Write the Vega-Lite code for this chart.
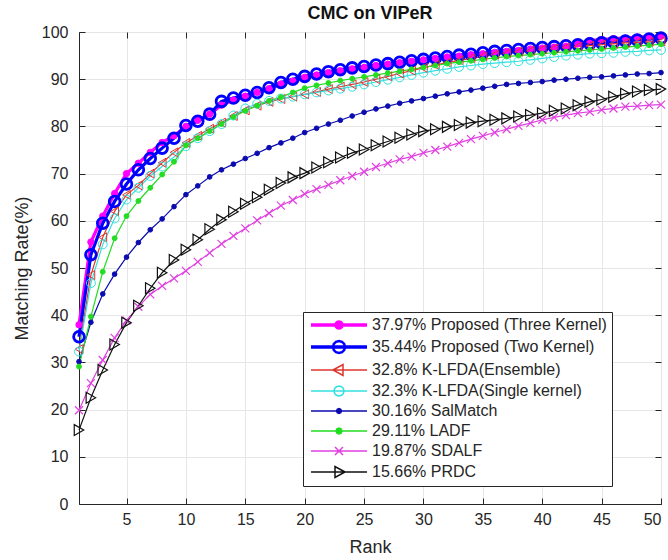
{
  "$schema": "https://vega.github.io/schema/vega-lite/v6.json",
  "width": 582,
  "height": 472,
  "autosize": "none",
  "padding": {"left": 79, "top": 32, "right": 7, "bottom": 56},
  "background": "white",
  "title": {"text": "CMC on VIPeR", "fontSize": 18, "fontWeight": "bold", "font": "Liberation Sans", "color": "#111111", "offset": 1, "anchor": "middle"},
  "config": {
    "view": {"stroke": "#262626", "strokeWidth": 1},
    "font": "Liberation Sans",
    "axis": {"domainColor": "#262626", "domainWidth": 1, "tickColor": "#262626", "tickSize": -6, "tickWidth": 1, "labelColor": "#262626", "labelFontSize": 16, "labelFont": "Liberation Sans", "titleFont": "Liberation Sans", "titleFontSize": 18, "titleFontWeight": "normal", "titleColor": "#262626", "gridColor": "#e6e6e6", "gridWidth": 1}
  },
  "data": {"values": [
{"s":"TK","r":1,"v":37.97},{"s":"TK","r":2,"v":55.5},{"s":"TK","r":3,"v":61.0},{"s":"TK","r":4,"v":65.8},{"s":"TK","r":5,"v":70.0},{"s":"TK","r":6,"v":72.2},{"s":"TK","r":7,"v":74.5},{"s":"TK","r":8,"v":76.6},{"s":"TK","r":9,"v":78.0},{"s":"TK","r":10,"v":80.0},
{"s":"TK","r":11,"v":81.3},{"s":"TK","r":12,"v":82.6},{"s":"TK","r":13,"v":84.5},{"s":"TK","r":14,"v":85.6},{"s":"TK","r":15,"v":86.4},{"s":"TK","r":16,"v":87.2},{"s":"TK","r":17,"v":88.0},{"s":"TK","r":18,"v":89.0},{"s":"TK","r":19,"v":89.6},{"s":"TK","r":20,"v":90.4},
{"s":"TK","r":21,"v":90.9},{"s":"TK","r":22,"v":91.4},{"s":"TK","r":23,"v":91.8},{"s":"TK","r":24,"v":92.2},{"s":"TK","r":25,"v":92.5},{"s":"TK","r":26,"v":92.9},{"s":"TK","r":27,"v":93.2},{"s":"TK","r":28,"v":93.5},{"s":"TK","r":29,"v":93.8},{"s":"TK","r":30,"v":94.1},
{"s":"TK","r":31,"v":94.4},{"s":"TK","r":32,"v":94.7},{"s":"TK","r":33,"v":94.9},{"s":"TK","r":34,"v":95.2},{"s":"TK","r":35,"v":95.4},{"s":"TK","r":36,"v":95.7},{"s":"TK","r":37,"v":95.9},{"s":"TK","r":38,"v":96.1},{"s":"TK","r":39,"v":96.4},{"s":"TK","r":40,"v":96.6},
{"s":"TK","r":41,"v":96.8},{"s":"TK","r":42,"v":97.0},{"s":"TK","r":43,"v":97.5},{"s":"TK","r":44,"v":98.2},{"s":"TK","r":45,"v":98.4},{"s":"TK","r":46,"v":98.6},{"s":"TK","r":47,"v":98.7},{"s":"TK","r":48,"v":98.9},{"s":"TK","r":49,"v":99.0},{"s":"TK","r":50,"v":99.1},
{"s":"TwK","r":1,"v":35.44},{"s":"TwK","r":2,"v":52.8},{"s":"TwK","r":3,"v":59.5},{"s":"TwK","r":4,"v":64.1},{"s":"TwK","r":5,"v":67.8},{"s":"TwK","r":6,"v":70.8},{"s":"TwK","r":7,"v":73.2},{"s":"TwK","r":8,"v":75.4},{"s":"TwK","r":9,"v":77.5},{"s":"TwK","r":10,"v":80.2},
{"s":"TwK","r":11,"v":81.1},{"s":"TwK","r":12,"v":82.6},{"s":"TwK","r":13,"v":85.3},{"s":"TwK","r":14,"v":86.0},{"s":"TwK","r":15,"v":86.6},{"s":"TwK","r":16,"v":87.2},{"s":"TwK","r":17,"v":88.2},{"s":"TwK","r":18,"v":89.3},{"s":"TwK","r":19,"v":90.0},{"s":"TwK","r":20,"v":90.6},
{"s":"TwK","r":21,"v":91.1},{"s":"TwK","r":22,"v":91.6},{"s":"TwK","r":23,"v":92.0},{"s":"TwK","r":24,"v":92.4},{"s":"TwK","r":25,"v":92.7},{"s":"TwK","r":26,"v":93.0},{"s":"TwK","r":27,"v":93.3},{"s":"TwK","r":28,"v":93.6},{"s":"TwK","r":29,"v":93.9},{"s":"TwK","r":30,"v":94.2},
{"s":"TwK","r":31,"v":94.5},{"s":"TwK","r":32,"v":94.8},{"s":"TwK","r":33,"v":95.1},{"s":"TwK","r":34,"v":95.3},{"s":"TwK","r":35,"v":95.6},{"s":"TwK","r":36,"v":95.9},{"s":"TwK","r":37,"v":96.1},{"s":"TwK","r":38,"v":96.3},{"s":"TwK","r":39,"v":96.5},{"s":"TwK","r":40,"v":96.7},
{"s":"TwK","r":41,"v":96.9},{"s":"TwK","r":42,"v":97.1},{"s":"TwK","r":43,"v":97.3},{"s":"TwK","r":44,"v":97.5},{"s":"TwK","r":45,"v":97.7},{"s":"TwK","r":46,"v":97.9},{"s":"TwK","r":47,"v":98.1},{"s":"TwK","r":48,"v":98.3},{"s":"TwK","r":49,"v":98.5},{"s":"TwK","r":50,"v":98.7},
{"s":"KE","r":1,"v":32.8},{"s":"KE","r":2,"v":48.5},{"s":"KE","r":3,"v":56.5},{"s":"KE","r":4,"v":62.0},{"s":"KE","r":5,"v":65.5},{"s":"KE","r":6,"v":67.5},{"s":"KE","r":7,"v":70.0},{"s":"KE","r":8,"v":72.3},{"s":"KE","r":9,"v":74.5},{"s":"KE","r":10,"v":76.5},
{"s":"KE","r":11,"v":78.0},{"s":"KE","r":12,"v":79.5},{"s":"KE","r":13,"v":80.8},{"s":"KE","r":14,"v":82.2},{"s":"KE","r":15,"v":83.4},{"s":"KE","r":16,"v":84.4},{"s":"KE","r":17,"v":85.2},{"s":"KE","r":18,"v":85.8},{"s":"KE","r":19,"v":86.3},{"s":"KE","r":20,"v":86.8},
{"s":"KE","r":21,"v":87.3},{"s":"KE","r":22,"v":87.9},{"s":"KE","r":23,"v":88.4},{"s":"KE","r":24,"v":88.9},{"s":"KE","r":25,"v":89.4},{"s":"KE","r":26,"v":90.0},{"s":"KE","r":27,"v":90.6},{"s":"KE","r":28,"v":91.2},{"s":"KE","r":29,"v":91.8},{"s":"KE","r":30,"v":92.4},
{"s":"KE","r":31,"v":93.0},{"s":"KE","r":32,"v":93.5},{"s":"KE","r":33,"v":94.0},{"s":"KE","r":34,"v":94.4},{"s":"KE","r":35,"v":94.8},{"s":"KE","r":36,"v":95.2},{"s":"KE","r":37,"v":95.5},{"s":"KE","r":38,"v":95.8},{"s":"KE","r":39,"v":96.0},{"s":"KE","r":40,"v":96.3},
{"s":"KE","r":41,"v":96.5},{"s":"KE","r":42,"v":96.7},{"s":"KE","r":43,"v":96.9},{"s":"KE","r":44,"v":97.1},{"s":"KE","r":45,"v":97.3},{"s":"KE","r":46,"v":97.5},{"s":"KE","r":47,"v":97.7},{"s":"KE","r":48,"v":97.8},{"s":"KE","r":49,"v":97.9},{"s":"KE","r":50,"v":98.0},
{"s":"KS","r":1,"v":32.3},{"s":"KS","r":2,"v":46.8},{"s":"KS","r":3,"v":55.0},{"s":"KS","r":4,"v":60.5},{"s":"KS","r":5,"v":64.5},{"s":"KS","r":6,"v":67.0},{"s":"KS","r":7,"v":69.5},{"s":"KS","r":8,"v":71.5},{"s":"KS","r":9,"v":73.5},{"s":"KS","r":10,"v":75.8},
{"s":"KS","r":11,"v":77.5},{"s":"KS","r":12,"v":79.0},{"s":"KS","r":13,"v":80.5},{"s":"KS","r":14,"v":82.3},{"s":"KS","r":15,"v":83.8},{"s":"KS","r":16,"v":84.8},{"s":"KS","r":17,"v":85.4},{"s":"KS","r":18,"v":85.9},{"s":"KS","r":19,"v":86.3},{"s":"KS","r":20,"v":86.8},
{"s":"KS","r":21,"v":87.2},{"s":"KS","r":22,"v":87.6},{"s":"KS","r":23,"v":88.0},{"s":"KS","r":24,"v":88.4},{"s":"KS","r":25,"v":88.9},{"s":"KS","r":26,"v":89.4},{"s":"KS","r":27,"v":89.9},{"s":"KS","r":28,"v":90.4},{"s":"KS","r":29,"v":90.9},{"s":"KS","r":30,"v":91.4},
{"s":"KS","r":31,"v":91.8},{"s":"KS","r":32,"v":92.2},{"s":"KS","r":33,"v":92.6},{"s":"KS","r":34,"v":92.9},{"s":"KS","r":35,"v":93.2},{"s":"KS","r":36,"v":93.4},{"s":"KS","r":37,"v":93.6},{"s":"KS","r":38,"v":93.8},{"s":"KS","r":39,"v":94.1},{"s":"KS","r":40,"v":94.4},
{"s":"KS","r":41,"v":94.7},{"s":"KS","r":42,"v":95.0},{"s":"KS","r":43,"v":95.2},{"s":"KS","r":44,"v":95.4},{"s":"KS","r":45,"v":95.5},{"s":"KS","r":46,"v":95.6},{"s":"KS","r":47,"v":95.8},{"s":"KS","r":48,"v":95.9},{"s":"KS","r":49,"v":96.1},{"s":"KS","r":50,"v":96.2},
{"s":"SM","r":1,"v":30.16},{"s":"SM","r":2,"v":38.5},{"s":"SM","r":3,"v":44.5},{"s":"SM","r":4,"v":48.7},{"s":"SM","r":5,"v":52.3},{"s":"SM","r":6,"v":55.4},{"s":"SM","r":7,"v":58.1},{"s":"SM","r":8,"v":60.4},{"s":"SM","r":9,"v":63.0},{"s":"SM","r":10,"v":65.54},
{"s":"SM","r":11,"v":67.4},{"s":"SM","r":12,"v":69.3},{"s":"SM","r":13,"v":70.8},{"s":"SM","r":14,"v":72.0},{"s":"SM","r":15,"v":73.2},{"s":"SM","r":16,"v":74.3},{"s":"SM","r":17,"v":75.5},{"s":"SM","r":18,"v":76.5},{"s":"SM","r":19,"v":77.5},{"s":"SM","r":20,"v":78.7},
{"s":"SM","r":21,"v":79.6},{"s":"SM","r":22,"v":80.5},{"s":"SM","r":23,"v":81.3},{"s":"SM","r":24,"v":82.2},{"s":"SM","r":25,"v":83.0},{"s":"SM","r":26,"v":83.7},{"s":"SM","r":27,"v":84.3},{"s":"SM","r":28,"v":84.9},{"s":"SM","r":29,"v":85.4},{"s":"SM","r":30,"v":85.9},
{"s":"SM","r":31,"v":86.4},{"s":"SM","r":32,"v":86.9},{"s":"SM","r":33,"v":87.3},{"s":"SM","r":34,"v":87.7},{"s":"SM","r":35,"v":88.1},{"s":"SM","r":36,"v":88.5},{"s":"SM","r":37,"v":88.9},{"s":"SM","r":38,"v":89.1},{"s":"SM","r":39,"v":89.3},{"s":"SM","r":40,"v":89.5},
{"s":"SM","r":41,"v":89.8},{"s":"SM","r":42,"v":90.0},{"s":"SM","r":43,"v":90.2},{"s":"SM","r":44,"v":90.4},{"s":"SM","r":45,"v":90.5},{"s":"SM","r":46,"v":90.7},{"s":"SM","r":47,"v":90.9},{"s":"SM","r":48,"v":91.1},{"s":"SM","r":49,"v":91.2},{"s":"SM","r":50,"v":91.4},
{"s":"LADF","r":1,"v":29.11},{"s":"LADF","r":2,"v":39.7},{"s":"LADF","r":3,"v":49.2},{"s":"LADF","r":4,"v":56.3},{"s":"LADF","r":5,"v":61.0},{"s":"LADF","r":6,"v":64.2},{"s":"LADF","r":7,"v":67.0},{"s":"LADF","r":8,"v":69.8},{"s":"LADF","r":9,"v":72.5},{"s":"LADF","r":10,"v":75.98},
{"s":"LADF","r":11,"v":77.5},{"s":"LADF","r":12,"v":79.0},{"s":"LADF","r":13,"v":80.5},{"s":"LADF","r":14,"v":82.0},{"s":"LADF","r":15,"v":83.3},{"s":"LADF","r":16,"v":84.4},{"s":"LADF","r":17,"v":85.4},{"s":"LADF","r":18,"v":86.2},{"s":"LADF","r":19,"v":87.2},{"s":"LADF","r":20,"v":88.1},
{"s":"LADF","r":21,"v":88.7},{"s":"LADF","r":22,"v":89.2},{"s":"LADF","r":23,"v":89.7},{"s":"LADF","r":24,"v":90.1},{"s":"LADF","r":25,"v":90.5},{"s":"LADF","r":26,"v":90.9},{"s":"LADF","r":27,"v":91.3},{"s":"LADF","r":28,"v":91.7},{"s":"LADF","r":29,"v":92.1},{"s":"LADF","r":30,"v":92.5},
{"s":"LADF","r":31,"v":92.9},{"s":"LADF","r":32,"v":93.3},{"s":"LADF","r":33,"v":93.6},{"s":"LADF","r":34,"v":93.9},{"s":"LADF","r":35,"v":94.2},{"s":"LADF","r":36,"v":94.5},{"s":"LADF","r":37,"v":94.8},{"s":"LADF","r":38,"v":95.0},{"s":"LADF","r":39,"v":95.2},{"s":"LADF","r":40,"v":95.4},
{"s":"LADF","r":41,"v":95.6},{"s":"LADF","r":42,"v":95.8},{"s":"LADF","r":43,"v":96.0},{"s":"LADF","r":44,"v":96.2},{"s":"LADF","r":45,"v":96.4},{"s":"LADF","r":46,"v":96.6},{"s":"LADF","r":47,"v":96.8},{"s":"LADF","r":48,"v":97.0},{"s":"LADF","r":49,"v":97.2},{"s":"LADF","r":50,"v":97.4},
{"s":"SDALF","r":1,"v":19.87},{"s":"SDALF","r":2,"v":25.6},{"s":"SDALF","r":3,"v":30.5},{"s":"SDALF","r":4,"v":35.2},{"s":"SDALF","r":5,"v":38.9},{"s":"SDALF","r":6,"v":41.8},{"s":"SDALF","r":7,"v":44.4},{"s":"SDALF","r":8,"v":46.2},{"s":"SDALF","r":9,"v":47.8},{"s":"SDALF","r":10,"v":49.4},
{"s":"SDALF","r":11,"v":51.3},{"s":"SDALF","r":12,"v":53.2},{"s":"SDALF","r":13,"v":55.1},{"s":"SDALF","r":14,"v":56.8},{"s":"SDALF","r":15,"v":58.4},{"s":"SDALF","r":16,"v":60.1},{"s":"SDALF","r":17,"v":61.6},{"s":"SDALF","r":18,"v":63.2},{"s":"SDALF","r":19,"v":64.4},{"s":"SDALF","r":20,"v":65.7},
{"s":"SDALF","r":21,"v":66.7},{"s":"SDALF","r":22,"v":67.6},{"s":"SDALF","r":23,"v":68.6},{"s":"SDALF","r":24,"v":69.5},{"s":"SDALF","r":25,"v":70.4},{"s":"SDALF","r":26,"v":71.4},{"s":"SDALF","r":27,"v":72.2},{"s":"SDALF","r":28,"v":73.0},{"s":"SDALF","r":29,"v":73.6},{"s":"SDALF","r":30,"v":74.4},
{"s":"SDALF","r":31,"v":75.0},{"s":"SDALF","r":32,"v":75.7},{"s":"SDALF","r":33,"v":76.5},{"s":"SDALF","r":34,"v":77.3},{"s":"SDALF","r":35,"v":78.0},{"s":"SDALF","r":36,"v":78.7},{"s":"SDALF","r":37,"v":79.4},{"s":"SDALF","r":38,"v":80.1},{"s":"SDALF","r":39,"v":80.7},{"s":"SDALF","r":40,"v":81.4},
{"s":"SDALF","r":41,"v":81.9},{"s":"SDALF","r":42,"v":82.4},{"s":"SDALF","r":43,"v":82.8},{"s":"SDALF","r":44,"v":83.1},{"s":"SDALF","r":45,"v":83.5},{"s":"SDALF","r":46,"v":83.8},{"s":"SDALF","r":47,"v":84.2},{"s":"SDALF","r":48,"v":84.3},{"s":"SDALF","r":49,"v":84.5},{"s":"SDALF","r":50,"v":84.6},
{"s":"PRDC","r":1,"v":15.66},{"s":"PRDC","r":2,"v":22.5},{"s":"PRDC","r":3,"v":28.4},{"s":"PRDC","r":4,"v":33.8},{"s":"PRDC","r":5,"v":38.42},{"s":"PRDC","r":6,"v":42.0},{"s":"PRDC","r":7,"v":45.7},{"s":"PRDC","r":8,"v":49.0},{"s":"PRDC","r":9,"v":51.7},{"s":"PRDC","r":10,"v":53.86},
{"s":"PRDC","r":11,"v":56.0},{"s":"PRDC","r":12,"v":58.2},{"s":"PRDC","r":13,"v":60.2},{"s":"PRDC","r":14,"v":61.9},{"s":"PRDC","r":15,"v":63.6},{"s":"PRDC","r":16,"v":65.0},{"s":"PRDC","r":17,"v":66.6},{"s":"PRDC","r":18,"v":68.0},{"s":"PRDC","r":19,"v":69.2},{"s":"PRDC","r":20,"v":70.1},
{"s":"PRDC","r":21,"v":71.3},{"s":"PRDC","r":22,"v":72.4},{"s":"PRDC","r":23,"v":73.4},{"s":"PRDC","r":24,"v":74.4},{"s":"PRDC","r":25,"v":75.1},{"s":"PRDC","r":26,"v":76.0},{"s":"PRDC","r":27,"v":76.8},{"s":"PRDC","r":28,"v":77.6},{"s":"PRDC","r":29,"v":78.3},{"s":"PRDC","r":30,"v":79.0},
{"s":"PRDC","r":31,"v":79.4},{"s":"PRDC","r":32,"v":79.9},{"s":"PRDC","r":33,"v":80.3},{"s":"PRDC","r":34,"v":80.8},{"s":"PRDC","r":35,"v":81.1},{"s":"PRDC","r":36,"v":81.4},{"s":"PRDC","r":37,"v":81.7},{"s":"PRDC","r":38,"v":82.1},{"s":"PRDC","r":39,"v":82.4},{"s":"PRDC","r":40,"v":82.8},
{"s":"PRDC","r":41,"v":83.3},{"s":"PRDC","r":42,"v":83.8},{"s":"PRDC","r":43,"v":84.5},{"s":"PRDC","r":44,"v":85.2},{"s":"PRDC","r":45,"v":85.7},{"s":"PRDC","r":46,"v":86.3},{"s":"PRDC","r":47,"v":86.9},{"s":"PRDC","r":48,"v":87.4},{"s":"PRDC","r":49,"v":87.7},{"s":"PRDC","r":50,"v":87.9}
  ]},
  "layer": [
    {
      "layer": [
        {
          "mark": {"type": "line"},
          "encoding": {
            "x": {"field": "r", "type": "quantitative", "scale": {"domain": [1, 50], "nice": false, "zero": false}, "axis": {"values": [5,10,15,20,25,30,35,40,45,50], "title": "Rank", "labelPadding": 13, "titlePadding": 11, "grid": true}},
            "y": {"field": "v", "type": "quantitative", "scale": {"domain": [0, 100], "nice": false}, "axis": {"values": [0,10,20,30,40,50,60,70,80,90,100], "title": "Matching Rate(%)", "labelPadding": 17, "titlePadding": 10, "grid": true}},
            "color": {"field": "s", "type": "nominal", "scale": {"domain": ["TK","TwK","KE","KS","SM","LADF","SDALF","PRDC"], "range": ["#ff00ff","#0000ff","#e0352b","#33e0e0","#0b0bb0","#22dd22","#e040e0","#111111"]},
              "legend": {
                "orient": "none", "legendX": 224, "legendY": 280, "title": null,
                "labelFontSize": 16, "labelFont": "Liberation Sans", "labelColor": "#262626", "labelLimit": 500,
                "symbolSize": 100, "symbolOffset": 23, "labelOffset": 25,
                "rowPadding": 4, "padding": 5,
                "strokeColor": "#262626", "fillColor": "white", "symbolOpacity": 1,
                "symbolType": {"expr": "['M-5.6,-0.2L5.6,-0.2M-5.6,0L5.6,0M-5.6,0.2L5.6,0.2M0.8,0L0.693,0.4L0.4,0.693L0,0.8L-0.4,0.693L-0.693,0.4L-0.8,0L-0.693,-0.4L-0.4,-0.693L0,-0.8L0.4,-0.693L0.693,-0.4Z','M-5.6,-0.2L5.6,-0.2M-5.6,0L5.6,0M-5.6,0.2L5.6,0.2M1.3,0L1.126,0.65L0.65,1.126L0,1.3L-0.65,1.126L-1.126,0.65L-1.3,0L-1.126,-0.65L-0.65,-1.126L0,-1.3L0.65,-1.126L1.126,-0.65ZM1.1,0L0.953,0.55L0.55,0.953L0,1.1L-0.55,0.953L-0.953,0.55L-1.1,0L-0.953,-0.55L-0.55,-0.953L0,-1.1L0.55,-0.953L0.953,-0.55Z','M-5.6,0L5.6,0M-1.2,0L0.8,-1.1L0.8,1.1Z','M-5.6,0L5.6,0M1,0L0.866,0.5L0.5,0.866L0,1L-0.5,0.866L-0.866,0.5L-1,0L-0.866,-0.5L-0.5,-0.866L0,-1L0.5,-0.866L0.866,-0.5Z','M-5.6,0L5.6,0M0.5,0L0.354,0.354L0,0.5L-0.354,0.354L-0.5,0L-0.354,-0.354L0,-0.5L0.354,-0.354Z','M-5.6,0L5.6,0M0.6,0L0.424,0.424L0,0.6L-0.424,0.424L-0.6,0L-0.424,-0.424L0,-0.6L0.424,-0.424Z','M-5.6,0L5.6,0M-0.8,-0.8L0.8,0.8M-0.8,0.8L0.8,-0.8','M-5.6,0L5.6,0M1.2,0L-0.8,-1.1L-0.8,1.1Z'][indexof(['TK','TwK','KE','KS','SM','LADF','SDALF','PRDC'], datum.value)]"},
                "symbolFillColor": {"expr": "['#ff00ff','transparent','transparent','transparent','#0b0bb0','#22dd22','transparent','transparent'][indexof(['TK','TwK','KE','KS','SM','LADF','SDALF','PRDC'], datum.value)]"},
                "labelExpr": "['37.97% Proposed (Three Kernel)\u00a0\u00a0\u00a0\u00a0\u00a0\u00a0\u00a0\u00a0\u00a0\u00a0\u00a0','35.44% Proposed (Two Kernel)','32.8% K-LFDA(Ensemble)','32.3% K-LFDA(Single kernel)','30.16% SalMatch','29.11% LADF','19.87% SDALF','15.66% PRDC'][indexof(['TK','TwK','KE','KS','SM','LADF','SDALF','PRDC'], datum.value)]"
              }},
            "strokeWidth": {"field": "s", "type": "nominal", "scale": {"type": "ordinal", "domain": ["TK","TwK","KE","KS","SM","LADF","SDALF","PRDC"], "range": [3.2,3.2,1.2,1.2,1.2,1.2,1.2,1.2]}, "legend": null}
          }
        },
        {
          "mark": {"type": "point", "filled": false, "opacity": 1},
          "encoding": {
            "x": {"field": "r", "type": "quantitative"},
            "y": {"field": "v", "type": "quantitative"},
            "stroke": {"field": "s", "type": "nominal", "scale": {"domain": ["PRDC","SDALF","LADF","SM","KS","KE","TwK","TK"], "range": ["#111111","#e040e0","#22dd22","#0b0bb0","#33e0e0","#e0352b","#0000ff","#ff00ff"]}, "legend": null},
            "fill": {"field": "s", "type": "nominal", "scale": {"domain": ["PRDC","SDALF","LADF","SM","KS","KE","TwK","TK"], "range": ["transparent","transparent","#22dd22","#0b0bb0","transparent","transparent","transparent","#ff00ff"]}, "legend": null},
            "shape": {"field": "s", "type": "nominal", "scale": {"domain": ["PRDC","SDALF","LADF","SM","KS","KE","TwK","TK"], "range": ["triangle-right","M-1,-1L1,1M-1,1L1,-1","circle","circle","circle","triangle-left","circle","circle"]}, "legend": null},
            "size": {"field": "s", "type": "nominal", "scale": {"type": "ordinal", "domain": ["PRDC","SDALF","LADF","SM","KS","KE","TwK","TK"], "range": [120,64,24,22,80,80,115,40]}, "legend": null},
            "strokeWidth": {"field": "s", "type": "nominal", "scale": {"type": "ordinal", "domain": ["PRDC","SDALF","LADF","SM","KS","KE","TwK","TK"], "range": [1.2,1.2,1,1,1,1,2.8,1]}, "legend": null}
          }
        }
      ],
      "resolve": {"scale": {"strokeWidth": "independent"}}
    },
    {
      "mark": {"type": "point", "opacity": 0},
      "encoding": {
        "x": {"field": "r", "type": "quantitative", "scale": {"domain": [1, 50], "nice": false, "zero": false}, "axis": {"orient": "top", "values": [5,10,15,20,25,30,35,40,45,50], "labels": false, "domain": false, "grid": false, "title": null}},
        "y": {"field": "v", "type": "quantitative", "scale": {"domain": [0, 100], "nice": false}, "axis": {"orient": "right", "values": [0,10,20,30,40,50,60,70,80,90,100], "labels": false, "domain": false, "grid": false, "title": null}}
      }
    }
  ],
  "resolve": {"scale": {"x": "independent", "y": "independent"}, "axis": {"x": "independent", "y": "independent"}}
}
